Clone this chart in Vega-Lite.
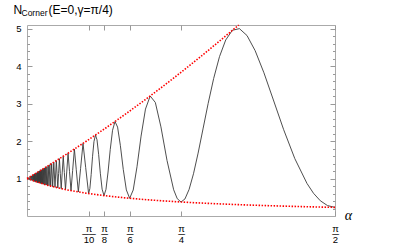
{
  "$schema": "https://vega.github.io/schema/vega-lite/v6.json",
  "width": 308,
  "height": 191,
  "autosize": "none",
  "padding": {"left": 27, "top": 25, "right": 60, "bottom": 28},
  "background": "white",
  "config": {
    "view": {"stroke": "#aaaaaa", "strokeWidth": 1},
    "axis": {"grid": false, "domain": false, "tickColor": "#999999", "labelColor": "#000000", "titleColor": "#000000", "labelFont": "Liberation Sans", "titleFont": "Liberation Sans", "titleFontWeight": "normal"}
  },
  "datasets": {
    "curve": [
      {"a": 1.5708, "n": 0.230}, {"a": 1.5325, "n": 0.2779}, {"a": 1.4960, "n": 0.4066}, {"a": 1.4612, "n": 0.6069},
      {"a": 1.4280, "n": 0.8685}, {"a": 1.3659, "n": 1.5318}, {"a": 1.3090, "n": 2.3051}, {"a": 1.2566, "n": 3.0970},
      {"a": 1.2083, "n": 3.8239}, {"a": 1.1635, "n": 4.4154}, {"a": 1.1220, "n": 4.8188}, {"a": 1.0833, "n": 5.0030},
      {"a": 1.0472, "n": 4.9591}, {"a": 1.0134, "n": 4.6991}, {"a": 0.9817, "n": 4.2548}, {"a": 0.9520, "n": 3.6726},
      {"a": 0.9240, "n": 3.0089}, {"a": 0.8976, "n": 2.3248}, {"a": 0.8727, "n": 1.6801}, {"a": 0.8491, "n": 1.1278},
      {"a": 0.8267, "n": 0.7103}, {"a": 0.8055, "n": 0.4551}, {"a": 0.7854, "n": 0.3741}, {"a": 0.7662, "n": 0.4626},
      {"a": 0.7480, "n": 0.7004}, {"a": 0.7140, "n": 1.4844}, {"a": 0.6830, "n": 2.3794}, {"a": 0.6545, "n": 3.0314},
      {"a": 0.6283, "n": 3.2044}, {"a": 0.6042, "n": 2.8549}, {"a": 0.5818, "n": 2.1332}, {"a": 0.5610, "n": 1.3152},
      {"a": 0.5417, "n": 0.6940}, {"a": 0.5236, "n": 0.4728}, {"a": 0.5067, "n": 0.6964}, {"a": 0.4909, "n": 1.2453},
      {"a": 0.4760, "n": 1.8882}, {"a": 0.4620, "n": 2.3736}, {"a": 0.4488, "n": 2.5222}, {"a": 0.4363, "n": 2.2894},
      {"a": 0.4245, "n": 1.7740}, {"a": 0.4134, "n": 1.1747}, {"a": 0.4028, "n": 0.7116}, {"a": 0.3927, "n": 0.5445},
      {"a": 0.3831, "n": 0.7161}, {"a": 0.3740, "n": 1.1418}, {"a": 0.3653, "n": 1.6468}, {"a": 0.3570, "n": 2.0347},
      {"a": 0.3491, "n": 2.1613}, {"a": 0.3415, "n": 1.9858}, {"a": 0.3342, "n": 1.5819}, {"a": 0.3272, "n": 1.1057},
      {"a": 0.3206, "n": 0.7343}, {"a": 0.3142, "n": 0.5991}, {"a": 0.2992, "n": 1.2982}, {"a": 0.2856, "n": 1.9384},
      {"a": 0.2732, "n": 1.2638}, {"a": 0.2618, "n": 0.6420}, {"a": 0.2513, "n": 1.2358}, {"a": 0.2417, "n": 1.7871},
      {"a": 0.2327, "n": 1.2126}, {"a": 0.2244, "n": 0.6766}, {"a": 0.2167, "n": 1.1932}, {"a": 0.2094, "n": 1.6778},
      {"a": 0.2027, "n": 1.1767}, {"a": 0.1963, "n": 0.7051}, {"a": 0.1904, "n": 1.1626}, {"a": 0.1848, "n": 1.5951},
      {"a": 0.1795, "n": 1.1504}, {"a": 0.1745, "n": 0.7290}, {"a": 0.1698, "n": 1.1398}, {"a": 0.1654, "n": 1.5304},
      {"a": 0.1611, "n": 1.1304}, {"a": 0.1571, "n": 0.7493}, {"a": 0.1496, "n": 1.4783}, {"a": 0.1428, "n": 0.7668},
      {"a": 0.1366, "n": 1.4356}, {"a": 0.1309, "n": 0.7820}, {"a": 0.1257, "n": 1.3998}, {"a": 0.1208, "n": 0.7953},
      {"a": 0.1164, "n": 1.3695}, {"a": 0.1122, "n": 0.8071}, {"a": 0.1083, "n": 1.3435}, {"a": 0.1047, "n": 0.8176},
      {"a": 0.1013, "n": 1.3208}, {"a": 0.0982, "n": 0.8271}, {"a": 0.0952, "n": 1.3010}, {"a": 0.0924, "n": 0.8356},
      {"a": 0.0898, "n": 1.2835}, {"a": 0.0873, "n": 0.8433}, {"a": 0.0849, "n": 1.2679}, {"a": 0.0827, "n": 0.8503},
      {"a": 0.0806, "n": 1.2539}, {"a": 0.0785, "n": 0.8567}, {"a": 0.0766, "n": 1.2413}, {"a": 0.0748, "n": 0.8626},
      {"a": 0.0731, "n": 1.2300}, {"a": 0.0714, "n": 0.8680}, {"a": 0.0698, "n": 1.2196}, {"a": 0.0683, "n": 0.8730},
      {"a": 0.0668, "n": 1.2101}, {"a": 0.0654, "n": 0.8776}, {"a": 0.0641, "n": 1.2014}, {"a": 0.0628, "n": 0.8820},
      {"a": 0.0616, "n": 1.1934}, {"a": 0.0604, "n": 0.8860}, {"a": 0.0593, "n": 1.1861}, {"a": 0.0582, "n": 0.8897},
      {"a": 0.0571, "n": 1.1792}, {"a": 0.0561, "n": 0.8933}, {"a": 0.0551, "n": 1.1728}, {"a": 0.0542, "n": 0.8966},
      {"a": 0.0532, "n": 1.1669}, {"a": 0.0524, "n": 0.8997}, {"a": 0.0499, "n": 1.1562}, {"a": 0.0476, "n": 0.9079},
      {"a": 0.0455, "n": 1.1425}, {"a": 0.0436, "n": 0.9150}, {"a": 0.0419, "n": 1.1310}, {"a": 0.0403, "n": 0.9210},
      {"a": 0.0388, "n": 1.1212}, {"a": 0.0374, "n": 0.9262}, {"a": 0.0361, "n": 1.1128}, {"a": 0.0349, "n": 0.9308},
      {"a": 0.0331, "n": 1.1032}, {"a": 0.0314, "n": 0.9373}, {"a": 0.0286, "n": 1.0891}, {"a": 0.0262, "n": 0.9472},
      {"a": 0.0233, "n": 1.0725}, {"a": 0.0209, "n": 0.9573}, {"a": 0.0175, "n": 1.0543}, {"a": 0.0143, "n": 0.9705},
      {"a": 0.0105, "n": 1.0326}, {"a": 0.0063, "n": 0.9868}, {"a": 0.0, "n": 1.0}
    ],
    "upper": [
      {"a": 0.0, "n": 1.0}, {"a": 0.1, "n": 1.3165}, {"a": 0.2, "n": 1.646}, {"a": 0.3, "n": 1.9885},
      {"a": 0.4, "n": 2.344}, {"a": 0.5, "n": 2.7125}, {"a": 0.6, "n": 3.094}, {"a": 0.7, "n": 3.4885},
      {"a": 0.8, "n": 3.896}, {"a": 0.9, "n": 4.3165}, {"a": 1.0, "n": 4.75}, {"a": 1.08, "n": 5.1}
    ],
    "lower": [
      {"a": 0.0, "n": 1.0}, {"a": 0.1, "n": 0.8244}, {"a": 0.2, "n": 0.7013}, {"a": 0.3, "n": 0.6101},
      {"a": 0.4, "n": 0.54}, {"a": 0.5, "n": 0.4843}, {"a": 0.6, "n": 0.439}, {"a": 0.7, "n": 0.4014},
      {"a": 0.8, "n": 0.3698}, {"a": 0.9, "n": 0.3428}, {"a": 1.0, "n": 0.3195}, {"a": 1.1, "n": 0.2991},
      {"a": 1.2, "n": 0.2812}, {"a": 1.3, "n": 0.2653}, {"a": 1.4, "n": 0.2511}, {"a": 1.5, "n": 0.2384},
      {"a": 1.5708, "n": 0.2301}
    ]
  },
  "resolve": {"axis": {"x": "independent", "y": "independent"}},
  "layer": [
    {
      "data": {"name": "curve"},
      "mark": {"type": "line", "color": "#3a3a3a", "strokeWidth": 0.9, "interpolate": "linear"},
      "encoding": {
        "x": {
          "field": "a", "type": "quantitative",
          "scale": {"domain": [0, 1.5708], "nice": false, "zero": false},
          "axis": {
            "orient": "bottom",
            "values": [0.314159, 0.392699, 0.523599, 0.785398, 1.570796],
            "labelExpr": "datum.value < 0.35 ? ['π','──','10'] : datum.value < 0.45 ? ['π','─','8'] : datum.value < 0.6 ? ['π','─','6'] : datum.value < 1 ? ['π','─','4'] : ['π','─','2']",
            "labelFontSize": 9.5,
            "labelLineHeight": 5.6,
            "labelBaseline": "top",
            "labelPadding": 12,
            "labelOverlap": false,
            "labelFlush": false,
            "labelBound": false,
            "tickSize": -5,
            "title": "α",
            "titleFont": "Liberation Serif",
            "titleFontStyle": "italic",
            "titleFontSize": 14,
            "titleX": 321,
            "titleY": -0.5,
            "titleAlign": "center",
            "titleBaseline": "middle"
          }
        },
        "y": {
          "field": "n", "type": "quantitative",
          "scale": {"domain": [0, 5.1], "nice": false, "zero": false},
          "axis": {
            "orient": "left",
            "values": [1, 2, 3, 4, 5],
            "labelFontSize": 9.5,
            "labelPadding": 11,
            "tickSize": -5,
            "title": null
          }
        }
      }
    },
    {
      "data": {"name": "upper"},
      "mark": {"type": "line", "color": "#ff0000", "strokeWidth": 1.6, "strokeDash": [1.5, 1.5]},
      "encoding": {
        "x": {
          "field": "a", "type": "quantitative",
          "scale": {"domain": [0, 1.5708], "nice": false, "zero": false},
          "axis": {
            "orient": "top",
            "values": [0.314159, 0.392699, 0.523599, 0.785398, 1.570796],
            "labels": false,
            "tickSize": -5,
            "title": "N",
            "titleFontSize": 12,
            "titleX": -14,
            "titleY": -11.7,
            "titleAlign": "left",
            "titleBaseline": "alphabetic",
            "titleAngle": 0
          }
        },
        "y": {
          "field": "n", "type": "quantitative",
          "scale": {"domain": [0, 5.1], "nice": false, "zero": false},
          "axis": {
            "orient": "right",
            "values": [1, 2, 3, 4, 5],
            "labels": false,
            "tickSize": -5,
            "title": "(E=0,γ=π/4)",
            "titleFontSize": 12,
            "titleX": -287,
            "titleY": -11.7,
            "titleAngle": 0,
            "titleAlign": "left",
            "titleBaseline": "alphabetic"
          }
        }
      }
    },
    {
      "data": {"name": "lower"},
      "mark": {"type": "line", "color": "#ff0000", "strokeWidth": 1.6, "strokeDash": [1.5, 1.5]},
      "encoding": {
        "x": {
          "field": "a", "type": "quantitative",
          "scale": {"domain": [0, 1.5708], "nice": false, "zero": false},
          "axis": null
        },
        "y": {
          "field": "n", "type": "quantitative",
          "scale": {"domain": [0, 5.1], "nice": false, "zero": false},
          "axis": {
            "orient": "left",
            "values": [0.2, 0.4, 0.6, 0.8, 1.2, 1.4, 1.6, 1.8, 2.2, 2.4, 2.6, 2.8, 3.2, 3.4, 3.6, 3.8, 4.2, 4.4, 4.6, 4.8],
            "labels": false,
            "tickSize": -2.5,
            "title": "Corner",
            "titleFontSize": 8.5,
            "titleX": -6,
            "titleY": -9.5,
            "titleAngle": 0,
            "titleAlign": "left",
            "titleBaseline": "alphabetic"
          }
        }
      }
    },
    {
      "data": {"name": "upper"},
      "mark": {"type": "line", "opacity": 0},
      "encoding": {
        "x": {
          "field": "a", "type": "quantitative",
          "scale": {"domain": [0, 1.5708], "nice": false, "zero": false},
          "axis": null
        },
        "y": {
          "field": "n", "type": "quantitative",
          "scale": {"domain": [0, 5.1], "nice": false, "zero": false},
          "axis": {
            "orient": "right",
            "values": [0.2, 0.4, 0.6, 0.8, 1.2, 1.4, 1.6, 1.8, 2.2, 2.4, 2.6, 2.8, 3.2, 3.4, 3.6, 3.8, 4.2, 4.4, 4.6, 4.8],
            "labels": false,
            "tickSize": -2.5,
            "title": null
          }
        }
      }
    }
  ]
}
